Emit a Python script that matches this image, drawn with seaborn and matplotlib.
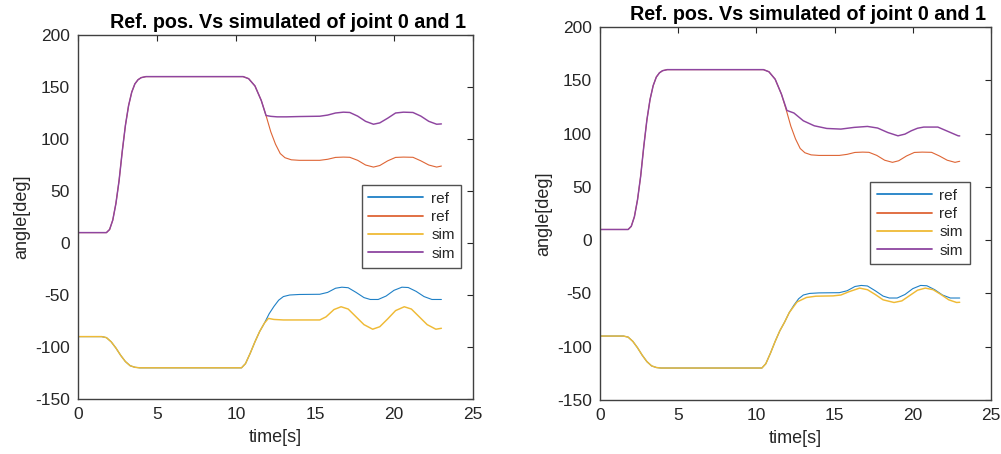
import matplotlib
matplotlib.use("Agg")
import matplotlib.pyplot as plt
import seaborn as sns
import pandas as pd

# ---- reference trajectories (shared by both runs) ----
t_ref0 = [0, 1.5, 1.8, 2.1, 2.4, 2.7, 3.0, 3.3, 3.6, 3.9, 4.2, 10.35, 10.6, 10.9, 11.2,
          11.5, 11.8, 12.1, 12.4, 12.7, 13.0, 13.4, 14.0, 15.3, 15.8, 16.3, 16.7, 17.1,
          17.6, 18.1, 18.5, 19.0, 19.5, 20.0, 20.5, 20.9, 21.4, 21.9, 22.4, 23.0]
ref0 = [-90, -90, -91, -95, -101, -108, -114, -118, -119.5, -120, -120, -120, -116, -106, -95,
        -85, -77, -68, -61, -55, -51.5, -50, -49.5, -49.3, -47.5, -43.5, -42.5, -43,
        -47.5, -52.5, -54.3, -54.3, -51, -45.5, -42.5, -42.8, -46.5, -51.5, -54.3, -54.3]

t_ref1 = [0, 1.8, 2.0, 2.2, 2.4, 2.6, 2.8, 3.0, 3.2, 3.4, 3.6, 3.8, 4.0, 4.3, 4.6, 10.45,
          10.8, 11.2, 11.6, 11.9, 12.2, 12.5, 12.8, 13.1, 13.5, 14.0, 15.3, 15.8, 16.3,
          16.8, 17.2, 17.7, 18.2, 18.7, 19.1, 19.6, 20.1, 20.6, 21.2, 21.7, 22.2, 22.7, 23.0]
ref1 = [10, 10, 13, 22, 38, 60, 88, 113, 132, 145, 153, 157, 159, 160, 160, 160,
        158, 151, 137, 122.6, 107, 95, 86, 82, 80, 79.5, 79.5, 80.5, 82.3,
        82.6, 82.4, 79.5, 75, 73, 74.5, 79, 82.3, 82.6, 82.4, 79, 75, 73, 74]

# ---- simulated joint 0 / joint 1, first run ----
t_simA0 = [0, 1.5, 1.8, 2.1, 2.4, 2.7, 3.0, 3.3, 3.6, 3.9, 4.2, 10.35, 10.6, 10.9, 11.2,
           11.5, 11.8, 12.05, 12.4, 13.0, 15.3, 15.7, 16.2, 16.65, 17.1, 17.6, 18.1,
           18.65, 19.1, 19.6, 20.1, 20.65, 21.1, 21.6, 22.1, 22.65, 23.0]
simA0 = [-90, -90, -91, -95, -101, -108, -114, -118, -119.5, -120, -120, -120, -116, -106, -95,
         -85, -77, -72.5, -73.5, -74, -74, -71, -64, -61.3, -63.5, -71, -78.5,
         -82.9, -80.5, -73, -65, -61.3, -63.5, -71, -78.5, -82.9, -82]

t_simA1 = [0, 1.8, 2.0, 2.2, 2.4, 2.6, 2.8, 3.0, 3.2, 3.4, 3.6, 3.8, 4.0, 4.3, 4.6, 10.45,
           10.8, 11.2, 11.6, 11.9, 12.2, 12.6, 13.2, 14.0, 15.3, 15.8, 16.3, 16.8, 17.2,
           17.7, 18.2, 18.7, 19.1, 19.6, 20.1, 20.6, 21.2, 21.7, 22.2, 22.7, 23.0]
simA1 = [10, 10, 13, 22, 38, 60, 88, 113, 132, 145, 153, 157, 159, 160, 160, 160,
         158, 151, 137, 122.6, 121.8, 121.3, 121.3, 121.6, 121.9, 123, 125, 125.8, 125.5,
         122, 117, 114.2, 115.5, 120, 125, 125.8, 125.5, 122, 117, 114.2, 114.5]

# ---- simulated joint 0 / joint 1, second run ----
t_simB0 = [0, 1.5, 1.8, 2.1, 2.4, 2.7, 3.0, 3.3, 3.6, 3.9, 4.2, 10.35, 10.6, 10.9, 11.2,
           11.5, 11.8, 12.1, 12.6, 13.2, 13.8, 14.9, 15.4, 15.9, 16.6, 17.1, 17.6, 18.1,
           18.8, 19.3, 19.8, 20.3, 20.8, 21.3, 21.8, 22.3, 22.8, 23.0]
simB0 = [-90, -90, -91, -95, -101, -108, -114, -118, -119.5, -120, -120, -120, -116, -106, -95,
         -85, -77, -68, -58, -53.8, -52.6, -52.3, -51.5, -48.5, -45, -46.5, -51, -56,
         -58.5, -57, -52, -47, -45, -46.5, -51, -56, -58.5, -58.3]

t_simB1 = [0, 1.8, 2.0, 2.2, 2.4, 2.6, 2.8, 3.0, 3.2, 3.4, 3.6, 3.8, 4.0, 4.3, 4.6, 10.45,
           10.8, 11.2, 11.6, 11.95, 12.4, 13.0, 13.7, 14.5, 15.4, 16.25, 17.1, 17.75, 18.4,
           19.05, 19.5, 19.9, 20.3, 20.7, 21.6, 22.25, 22.9, 23.0]
simB1 = [10, 10, 13, 22, 38, 60, 88, 113, 132, 145, 153, 157, 159, 160, 160, 160,
         158, 151, 137, 121.7, 119.3, 112, 107.3, 104.8, 104.2, 105.8, 106.7, 105.2, 101,
         97.9, 99.5, 102.6, 105, 106.1, 106.1, 102, 97.9, 97.8]

legend_labels = ["ref", "ref", "sim", "sim"]
title_text = "Ref. pos. Vs simulated of joint 0 and 1"
x_ticks = [0, 5, 10, 15, 20, 25]
y_ticks = [-150, -100, -50, 0, 50, 100, 150, 200]

colors = ["#1F80C6", "#DE6535", "#EFBA35", "#8E45A0"]
widths = [0.8, 0.8, 1.05, 1.05]

sns.set_theme(style="white")
plt.rcParams["font.family"] = ["Liberation Sans", "DejaVu Sans"]
plt.rcParams["axes.edgecolor"] = "#262626"
plt.rcParams["axes.unicode_minus"] = False

fig = plt.figure(figsize=(10.01, 4.54), dpi=100)
fig.patch.set_facecolor("white")

axes_boxes = [
    [78 / 1001, (454 - 399) / 454, 395 / 1001, 364 / 454],
    [600 / 1001, (454 - 400) / 454, 391 / 1001, 373 / 454],
]
legend_anchor = [(0.718, 0.588), (0.690, 0.585)]

runs = [
    [(t_ref0, ref0), (t_ref1, ref1), (t_simA0, simA0), (t_simA1, simA1)],
    [(t_ref0, ref0), (t_ref1, ref1), (t_simB0, simB0), (t_simB1, simB1)],
]

for box, series, anchor in zip(axes_boxes, runs, legend_anchor):
    ax = fig.add_axes(box)
    for (t, v), c, w, lab in zip(series, colors, widths, legend_labels):
        df = pd.DataFrame({"t": t, "v": v})
        sns.lineplot(data=df, x="t", y="v", ax=ax, color=c, linewidth=w,
                     estimator=None, sort=True, label=lab)
    ax.set_xlim(0, 25)
    ax.set_ylim(-150, 200)
    ax.set_xticks(x_ticks)
    ax.set_yticks(y_ticks)
    ax.tick_params(direction="in", length=4, width=0.8, top=True, right=True,
                   labelsize=12.5, colors="#262626", pad=6)
    for sp in ax.spines.values():
        sp.set_visible(True)
        sp.set_color("#404040")
        sp.set_linewidth(1.0)
    ax.set_xlabel("time[s]", fontsize=13, color="#262626", labelpad=5)
    ax.set_ylabel("angle[deg]", fontsize=13, color="#262626", labelpad=3)
    ax.set_title(title_text, fontsize=14.2, fontweight="bold", x=0.532, pad=5,
                 color="black")
    leg = ax.legend(loc="upper left", bbox_to_anchor=anchor, fontsize=11,
                    frameon=True, fancybox=False, edgecolor="#262626",
                    handlelength=3.6, handletextpad=0.5, borderpad=0.45,
                    labelspacing=0.28, borderaxespad=0)
    leg.get_frame().set_linewidth(1.0)
    for h in leg.get_lines():
        h.set_linewidth(1.3)

fig.savefig("out.png", dpi=100, facecolor="white")
